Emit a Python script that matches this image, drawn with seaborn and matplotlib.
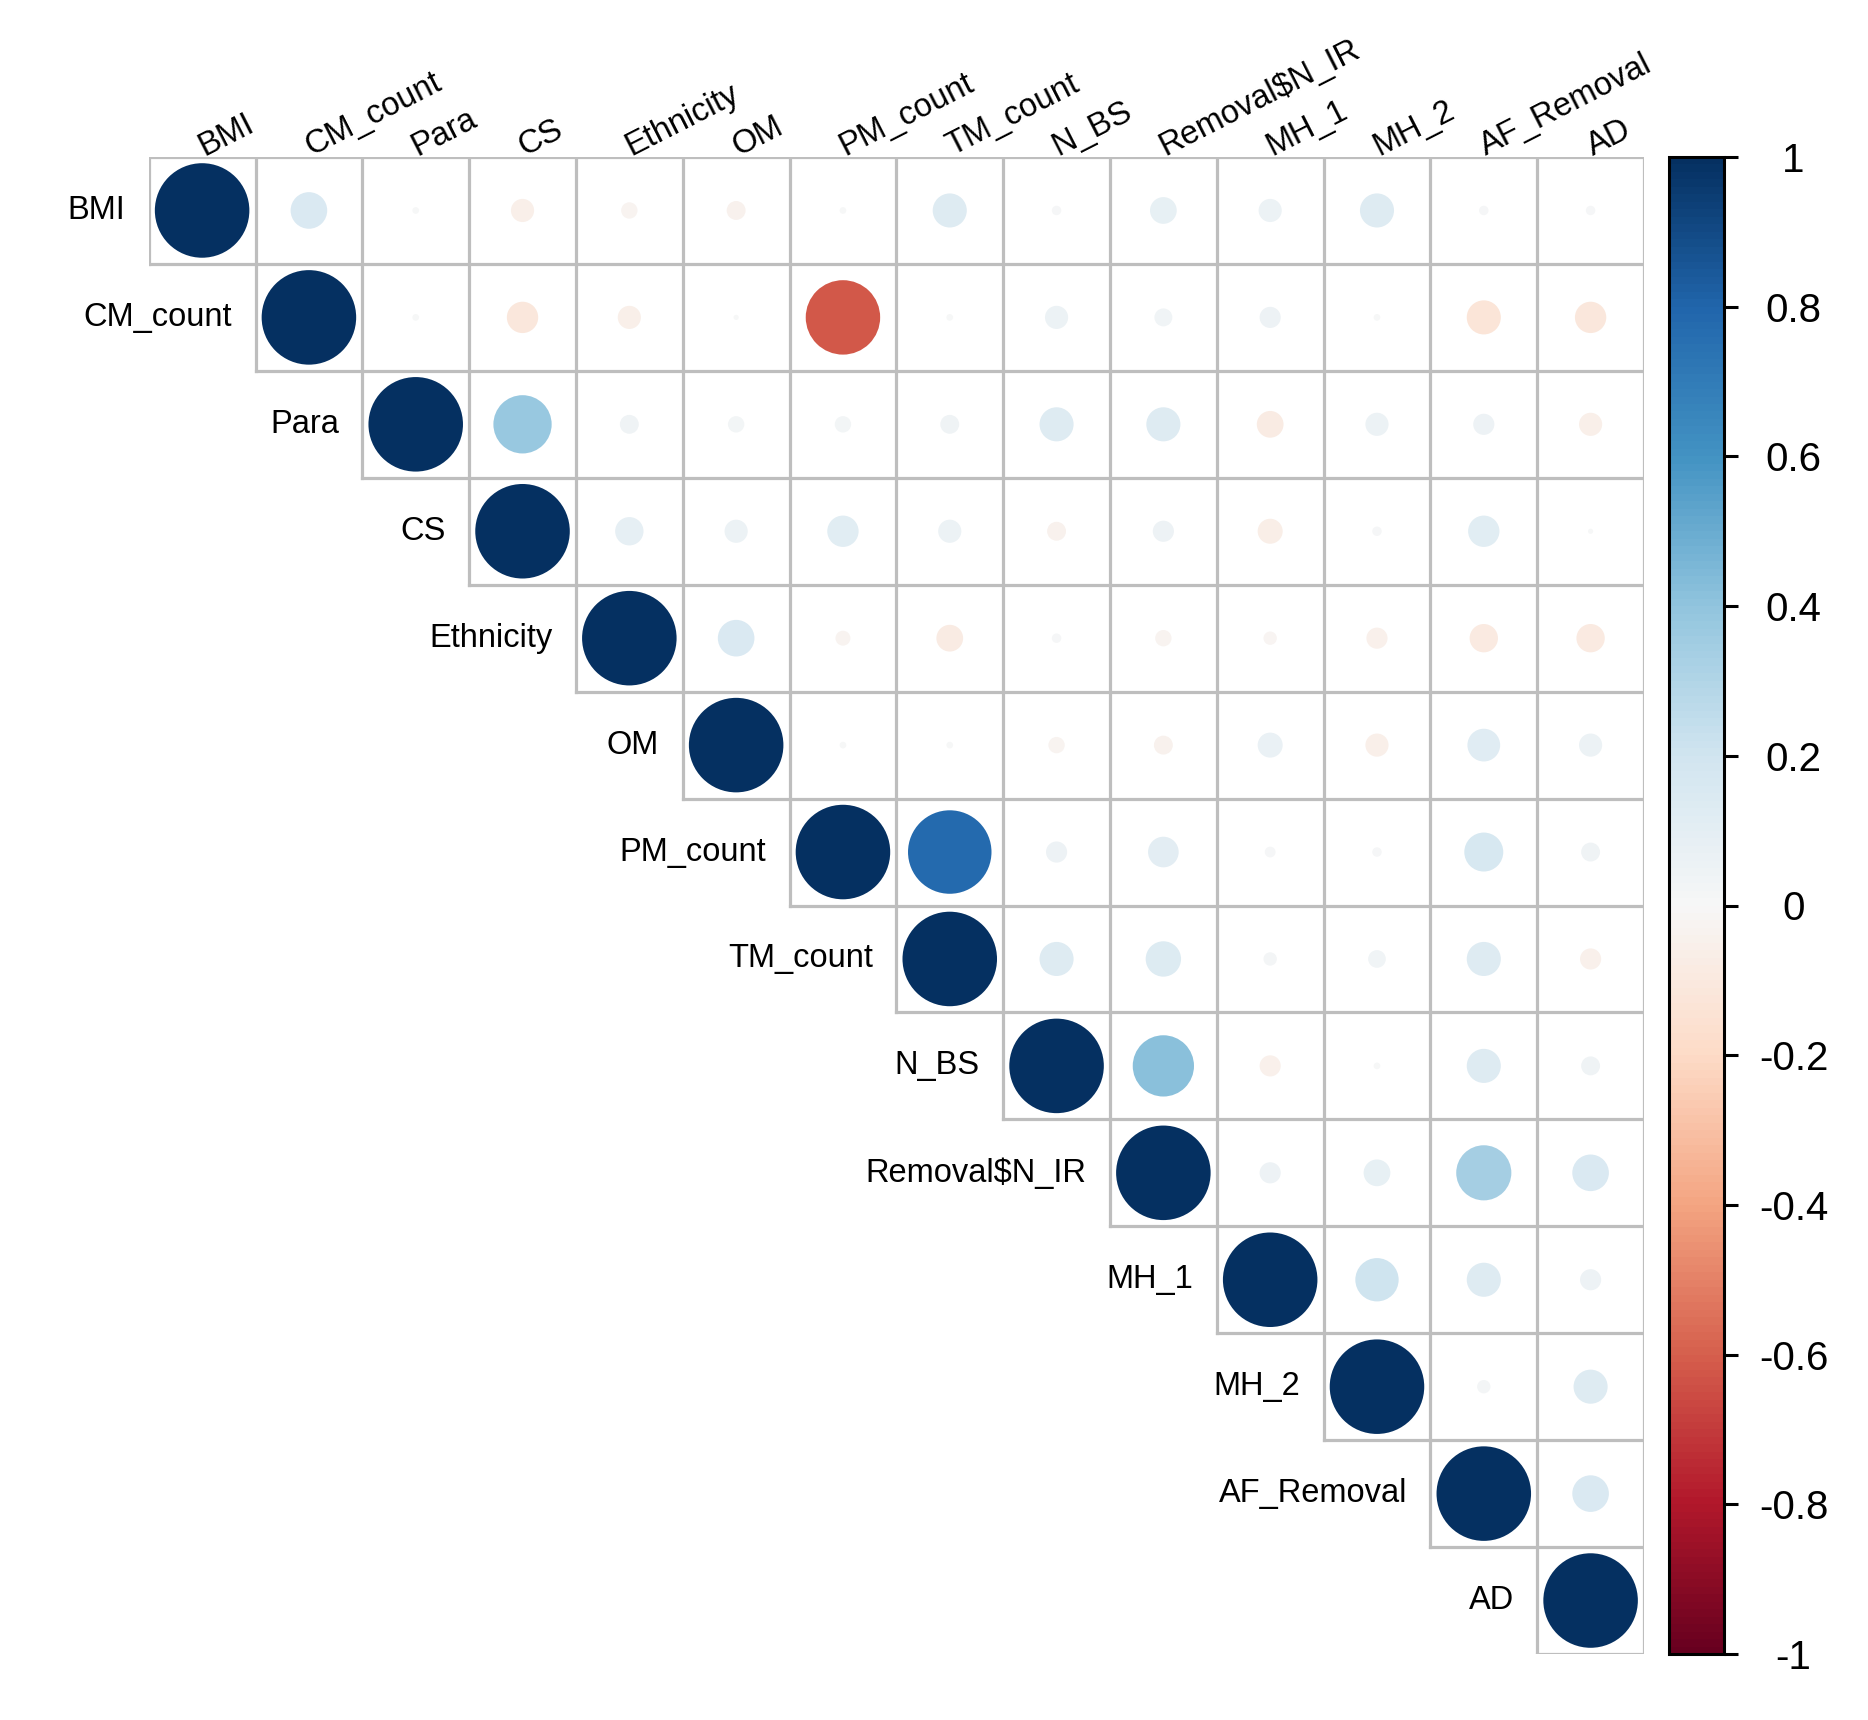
import numpy as np
import pandas as pd
import matplotlib
matplotlib.use("Agg")
import matplotlib.pyplot as plt
import seaborn as sns


# ==================================================
# DATA (upper triangle of the correlation matrix)
# ==================================================
labels = ["BMI", "CM_count", "Para", "CS", "Ethnicity", "OM", "PM_count",
          "TM_count", "N_BS", "Removal$N_IR", "MH_1", "MH_2", "AF_Removal", "AD"]

r_bmi = [1, 0.15, 0.005, -0.06, -0.03, -0.04, 0.005, 0.13, 0.01, 0.08, 0.06, 0.13, 0.01, 0.01]
r_cm_count = [1, 0.005, -0.11, -0.06, 0.003, -0.62, 0.005, 0.06, 0.036, 0.05, 0.005, -0.13, -0.11]
r_para = [1, 0.38, 0.04, 0.03, 0.03, 0.04, 0.13, 0.13, -0.08, 0.06, 0.05, -0.06]
r_cs = [1, 0.09, 0.06, 0.11, 0.06, -0.04, 0.05, -0.07, 0.01, 0.11, 0.003]
r_ethnicity = [1, 0.15, -0.025, -0.08, 0.01, -0.03, -0.02, -0.05, -0.09, -0.09]
r_om = [1, 0.005, 0.005, -0.03, -0.04, 0.07, -0.06, 0.12, 0.06]
r_pm_count = [1, 0.78, 0.05, 0.105, 0.013, 0.01, 0.17, 0.04]
r_tm_count = [1, 0.13, 0.14, 0.02, 0.035, 0.13, -0.05]
r_n_bs = [1, 0.42, -0.05, 0.005, 0.13, 0.04]
r_removal = [1, 0.05, 0.08, 0.34, 0.15]
r_mh_1 = [1, 0.21, 0.13, 0.05]
r_mh_2 = [1, 0.02, 0.13]
r_af_removal = [1, 0.15]
r_ad = [1]

rows = [r_bmi, r_cm_count, r_para, r_cs, r_ethnicity, r_om, r_pm_count,
        r_tm_count, r_n_bs, r_removal, r_mh_1, r_mh_2, r_af_removal, r_ad]

cb_ticks = [-1, -0.8, -0.6, -0.4, -0.2, 0, 0.2, 0.4, 0.6, 0.8, 1]
cb_ticklabels = ["-1", "-0.8", "-0.6", "-0.4", "-0.2", "0", "0.2", "0.4", "0.6", "0.8", "1"]

# long form table
records = []
for i, vals in enumerate(rows):
    for k, v in enumerate(vals):
        records.append({"row": i, "col": i + k, "r": v, "abs_r": abs(v)})
df = pd.DataFrame(records)


# ==================================================
# STYLE
# ==================================================
sns.set_style("white")
plt.rcParams["font.family"] = ["Liberation Sans", "DejaVu Sans"]

W, H, DPI = 1868, 1720, 100
n = len(labels)

# grid area in pixels
gx0, gx1 = 148.7, 1644
gy0, gy1 = 157, 1654
cell_pt = (gx1 - gx0) / n * 72 / DPI

fig = plt.figure(figsize=(W / DPI, H / DPI), dpi=DPI)
ax = fig.add_axes([gx0 / W, (H - gy1) / H, (gx1 - gx0) / W, (gy1 - gy0) / H])
ax.set_xlim(-0.5, n - 0.5)
ax.set_ylim(n - 0.5, -0.5)

# cell borders (upper triangle only)
grid_col = "#BEBEBE"
grid_lw = 2.3
for k in range(n + 1):
    x_start = max(k - 1, 0) - 0.5
    ax.plot([x_start, n - 0.5], [k - 0.5, k - 0.5], color=grid_col, lw=grid_lw,
            solid_capstyle="projecting", zorder=1)
    y_end = min(k + 1, n) - 0.5
    ax.plot([k - 0.5, k - 0.5], [-0.5, y_end], color=grid_col, lw=grid_lw,
            solid_capstyle="projecting", zorder=1)

# circles: area proportional to |r|
smax = (0.885 * cell_pt) ** 2
sns.scatterplot(
    data=df, x="col", y="row",
    hue="r", hue_norm=(-1, 1), palette="RdBu",
    size="abs_r", size_norm=(0, 1), sizes=(0, smax),
    marker="o", linewidth=0, legend=False, ax=ax, zorder=2
)
ax.set_xlim(-0.5, n - 0.5)
ax.set_ylim(n - 0.5, -0.5)
ax.set_axis_off()

# labels
fs = 23.5
for i, name in enumerate(labels):
    ax.text(i - 0.5 - 0.22, i, name, ha="right", va="center", fontsize=fs, color="black")
    ax.text(i + 0.02, -0.5 - 0.01, name, ha="left", va="baseline", rotation=27,
            rotation_mode="anchor", fontsize=fs, color="black")


# ==================================================
# COLOR LEGEND
# ==================================================
cx0, cx1 = 1669, 1724
cax = fig.add_axes([cx0 / W, (H - gy1) / H, (cx1 - cx0) / W, (gy1 - gy0) / H])
sm = plt.cm.ScalarMappable(norm=plt.Normalize(-1, 1),
                           cmap=plt.get_cmap("RdBu").resampled(200))
cb = fig.colorbar(sm, cax=cax, ticks=cb_ticks)
cb.ax.set_yticklabels(cb_ticklabels)
cb.outline.set_linewidth(2.2)
cb.outline.set_edgecolor("black")
cb.ax.tick_params(length=10, width=2.2, pad=40, labelsize=29, colors="black")
for lab in cb.ax.get_yticklabels():
    lab.set_ha("center")

fig.savefig("out.png", dpi=DPI)
